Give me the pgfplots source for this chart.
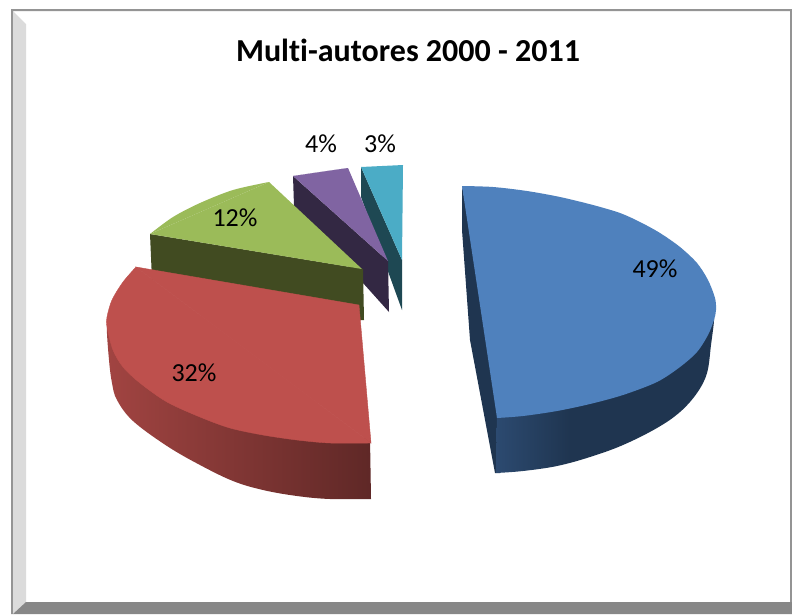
\documentclass[border=0pt]{standalone}
\usepackage{fontspec}
\setmainfont{Carlito}[Ligatures=NoCommon]
\usepackage{pgfplots}
\pgfplotsset{compat=1.18}
\definecolor{bluetop}{HTML}{4F81BD}
\definecolor{redtop}{HTML}{BE504D}
\definecolor{greentop}{HTML}{9BBB59}
\definecolor{purptop}{HTML}{8064A2}
\definecolor{tealtop}{HTML}{4BACC6}
\definecolor{blueside}{HTML}{1F3550}
\definecolor{blueleft}{HTML}{2C4A70}
\definecolor{greenside}{HTML}{414B21}
\definecolor{purpside}{HTML}{332843}
\definecolor{tealside}{HTML}{1E4853}
\pgfdeclarehorizontalshading{bluewall}{100bp}{color(0bp)=(blueleft);color(25bp)=(blueleft);color(42bp)=(blueside);color(100bp)=(blueside)}
\begin{document}
\begin{tikzpicture}
\begin{axis}[
  hide axis, scale only axis, width=792pt, height=614pt,
  xmin=0, xmax=792, ymin=0, ymax=614, y dir=reverse,
  clip=true,
  every axis plot/.append style={draw=none, line width=0pt},
]
% frame
\addplot[fill=white] coordinates {(0,0)(792,0)(792,614)(0,614)} --cycle;
\addplot[fill=black!42] coordinates {(11,9)(792,9)(792,11)(13,11)(13,614)(11,614)} --cycle;
\addplot[fill=black!14] coordinates {(13,11)(26,24)(26,602)(13,614)} --cycle;
\addplot[fill=black!47] coordinates {(13,614)(26,602)(790,602)(792,600)(792,614)} --cycle;
\addplot[fill=black!42] coordinates {(790,11)(792,9)(792,602)(790,602)} --cycle;
% teal
\addplot[fill=tealside] coordinates {(361,167)(402,260)(402,310)(361,197)} --cycle;
\addplot[fill=tealtop] coordinates {(361,167)(403,165)(402,260)} --cycle;
% purple
\addplot[fill=purpside] coordinates {(293,176)(388,261)(389,312)(294,206)} --cycle;
\addplot[fill=purptop, smooth] coordinates {(293,176)(320,172)(348,168)} --cycle;
\addplot[fill=purptop] coordinates {(293,176)(348,168)(388,261)} --cycle;
% green
\addplot[fill=greenside] coordinates {(150,234)(363,269)(364,320)(360,320)(152,280)} --cycle;
\addplot[fill=greentop, smooth] coordinates {(150,234)(173,217)(200,203)(233,190)(269,182)} --cycle;
\addplot[fill=greentop] coordinates {(150,234)(269,182)(362,269)} --cycle;
% red
\addplot[smooth, tension=0.6, left color=redtop!85!black, right color=redtop!50!black]
 coordinates {(370,438)(330,438)(297,435)(263,430)(230,423)(200,412)(167,397)(140,378)(123,362)(113,345)(107,327)
 (109,360)(112,383)(117,400)(133,421)(167,446)(200,465)(233,481)(263,490)(297,496)(330,499)(371,499)} --cycle;
\addplot[fill=redtop, draw=redtop, line width=0.4pt, smooth] coordinates {(136,267)(123,282)(112,300)(107,317)(107,327)(113,350)(123,367)(140,383)(167,402)(200,417)(230,428)(263,435)(297,440)(330,443)(371,443)} --cycle;
\addplot[fill=redtop, draw=redtop, line width=0.4pt] coordinates {(136,267)(359,305)(371,443)} --cycle;
% blue
\addplot[fill=blueside] coordinates {(462,186)(462,230)(470,340)(495,473)(500,473)(505,415)} --cycle;
\addplot[smooth, tension=0.6, shading=bluewall]
 coordinates {(497,412)(523,410)(557,405)(590,398)(623,389)(657,376)(680,361)(697,346)(708,330)(714,318)
 (711,345)(707,373)(697,393)(680,412)(657,428)(623,445)(590,457)(557,466)(523,471)(496,473)} --cycle;
\addplot[fill=bluetop, smooth] coordinates {(462,186)(493,187)(527,191)(560,197)(593,205)(620,213)(640,222)(660,233)(680,247)(697,263)(708,280)(715,298)(716,310)(714,320)(708,335)(697,352)(680,367)(657,382)(623,395)(590,404)(557,411)(523,416)(497,418)} --cycle;
% text
\node[font=\fontsize{32}{36}\selectfont\bfseries, black] at (axis cs:408,50) {Multi-autores 2000 - 2011};
\node[font=\fontsize{26}{30}\selectfont, black] at (axis cs:655,269) {49\%};
\node[font=\fontsize{26}{30}\selectfont, black] at (axis cs:194,373) {32\%};
\node[font=\fontsize{26}{30}\selectfont, black] at (axis cs:235,218) {12\%};
\node[font=\fontsize{26}{30}\selectfont, black] at (axis cs:321,144) {4\%};
\node[font=\fontsize{26}{30}\selectfont, black] at (axis cs:380,144) {3\%};
\end{axis}
\end{tikzpicture}
\end{document}
